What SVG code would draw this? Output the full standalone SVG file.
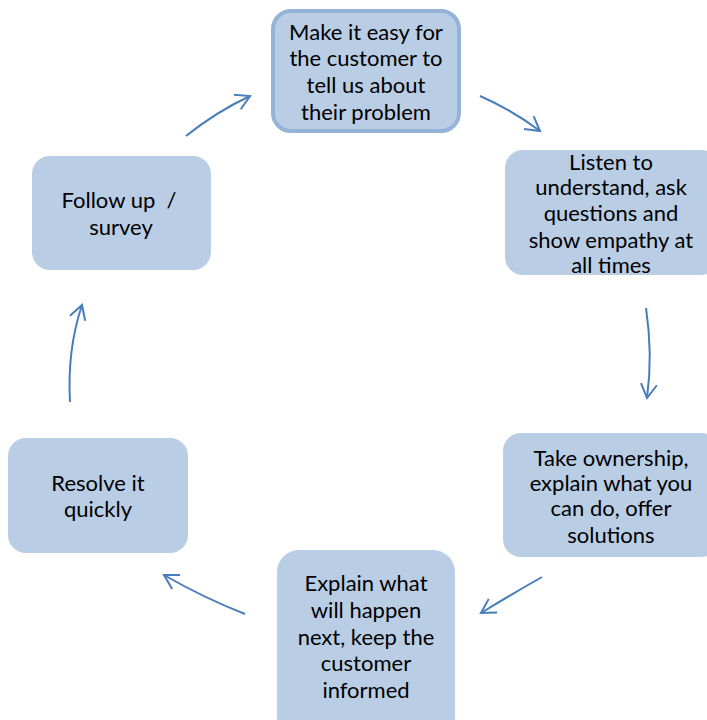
<svg xmlns="http://www.w3.org/2000/svg" width="707" height="720" viewBox="0 0 707 720">
<defs>
<style>
.box{fill:#b9cde5;}
.main{fill:#b9cde5;stroke:#95b3d7;stroke-width:4;}
.t{font-family:Lato,"Open Sans","Liberation Sans",sans-serif;font-size:22px;fill:#000;text-anchor:middle;}
.c{fill:none;stroke:#4a7ebb;stroke-width:2;marker-end:url(#ah);}
</style>
<marker id="ah" markerUnits="userSpaceOnUse" markerWidth="20" markerHeight="20" viewBox="0 0 20 20" refX="16" refY="10" orient="auto">
<path d="M2,2 L16,10 L2,18" fill="none" stroke="#4a7ebb" stroke-width="2"/>
</marker>
</defs>
<rect width="707" height="720" fill="#fff"/>
<g id="connectors">
<path class="c" d="M480,96 Q512,110 540,131"/>
<path class="c" d="M646,308 Q653,355 647,398"/>
<path class="c" d="M542,577 Q512,594 481,613"/>
<path class="c" d="M245,614 Q204,598 164,575"/>
<path class="c" d="M70,402 Q67,350 82,305"/>
<path class="c" d="M186,136 Q216,112 250,96"/>
</g>
<g id="n1">
<rect class="main" x="273" y="11" width="186" height="120" rx="18"/>
<text class="t" x="366" y="40">Make it easy for</text>
<text class="t" x="366" y="66">the customer to</text>
<text class="t" x="366" y="93">tell us about</text>
<text class="t" x="366" y="120">their problem</text>
</g>
<g id="n2">
<rect class="box" x="505" y="150" width="214" height="125" rx="18"/>
<text class="t" x="611" y="170">Listen to</text>
<text class="t" x="611" y="195">understand, ask</text>
<text class="t" x="611" y="221">questions and</text>
<text class="t" x="611" y="248">show empathy at</text>
<text class="t" x="611" y="273">all times</text>
</g>
<g id="n3">
<rect class="box" x="503" y="433" width="216" height="124" rx="18"/>
<text class="t" x="611" y="466">Take ownership,</text>
<text class="t" x="611" y="491">explain what you</text>
<text class="t" x="611" y="516">can do, offer</text>
<text class="t" x="611" y="543">solutions</text>
</g>
<g id="n4">
<rect class="box" x="277" y="550" width="178" height="190" rx="22"/>
<text class="t" x="366" y="591">Explain what</text>
<text class="t" x="366" y="618">will happen</text>
<text class="t" x="366" y="645">next, keep the</text>
<text class="t" x="366" y="671">customer</text>
<text class="t" x="366" y="698">informed</text>
</g>
<g id="n5">
<rect class="box" x="8" y="438" width="180" height="115" rx="18"/>
<text class="t" x="98" y="491">Resolve it</text>
<text class="t" x="98" y="517">quickly</text>
</g>
<g id="n6">
<rect class="box" x="32" y="156" width="179" height="114" rx="18"/>
<text class="t" x="119" y="208" xml:space="preserve">Follow up  /</text>
<text class="t" x="121" y="235">survey</text>
</g>
</svg>
